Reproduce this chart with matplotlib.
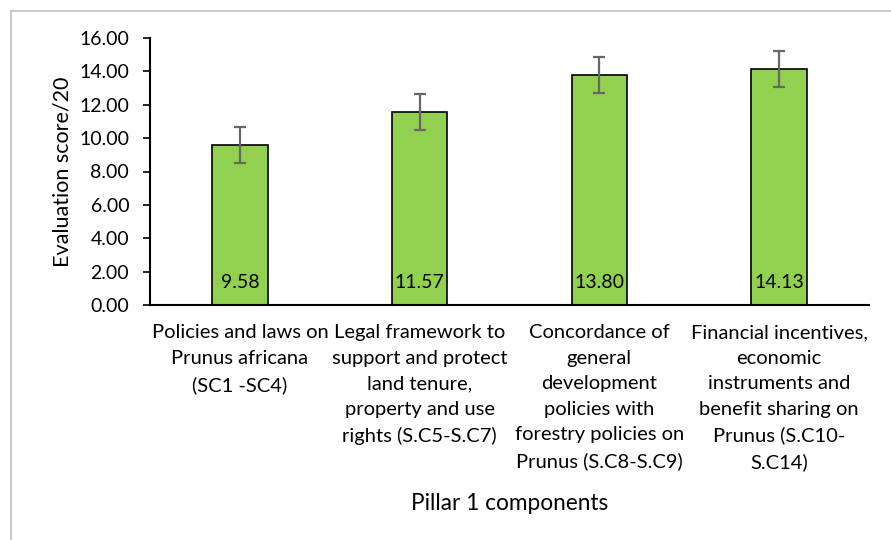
import matplotlib.pyplot as plt
from matplotlib.lines import Line2D

categories = [
    "Policies and laws on\nPrunus africana\n(SC1 -SC4)",
    "Legal framework to\nsupport and protect\nland tenure,\nproperty and use\nrights (S.C5-S.C7)",
    "Concordance of\ngeneral\ndevelopment\npolicies with\nforestry policies on\nPrunus (S.C8-S.C9)",
    "Financial incentives,\neconomic\ninstruments and\nbenefit sharing on\nPrunus (S.C10-\nS.C14)",
]
scores = [9.58, 11.57, 13.80, 14.13]
errors = [1.07, 1.07, 1.07, 1.07]
yticks = [0, 2, 4, 6, 8, 10, 12, 14, 16]

BAR_C = "#92D050"
TEXT = "#000000"

plt.rcParams.update({
    "font.family": ["Lato", "DejaVu Sans"],
    "font.size": 14,
    "text.color": TEXT,
})

fig = plt.figure(figsize=(8.91, 5.4), dpi=100)
ax = fig.add_axes([150 / 891, 1 - 305 / 540, (869 - 150) / 891, (305 - 38) / 540])

x = range(len(categories))
ax.bar(x, scores, width=0.31, color=BAR_C, edgecolor="black",
       linewidth=1.2, zorder=2)
ax.errorbar(x, scores, yerr=errors, fmt="none", ecolor="#666666",
            elinewidth=1.6, capsize=4, capthick=1.6, zorder=3)

for i, v in enumerate(scores):
    ax.text(i, 1.32, f"{v:.2f}", ha="center", va="center", fontsize=14)

ax.set_xlim(-0.5, len(categories) - 0.5)
ax.set_ylim(0, 16)
ax.set_yticks(yticks)
ax.set_yticklabels([f"{t:.2f}" for t in yticks], fontsize=14)
ax.set_xticks(list(x))
ax.set_xticklabels(categories, fontsize=14.5, linespacing=1.6, va="top")
ax.tick_params(axis="x", length=0, pad=14)
ax.tick_params(axis="y", length=5, width=1.2, direction="out", pad=10)

for s in ("top", "right"):
    ax.spines[s].set_visible(False)
ax.spines["left"].set_linewidth(1.5)
ax.spines["bottom"].set_linewidth(1.5)

ax.set_ylabel("Evaluation score/20", fontsize=15.5, labelpad=5)
fig.text(510 / 891, 1 - 503 / 540, "Pillar 1 components",
         ha="center", va="center", fontsize=16.3)

# chart frame (top and left edges visible in the crop)
fig.add_artist(Line2D([11 / 891, 1], [1 - 11 / 540] * 2, color="#BFBFBF", lw=1.2))
fig.add_artist(Line2D([11 / 891] * 2, [0, 1 - 11 / 540], color="#BFBFBF", lw=1.2))

fig.savefig("out.png", dpi=100, facecolor="white")
